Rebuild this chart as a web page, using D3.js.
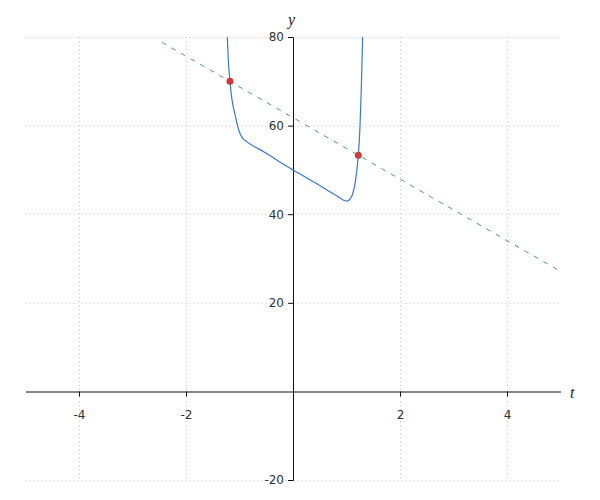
<!DOCTYPE html>
<html>
<head>
<meta charset="utf-8">
<script src="https://cdn.jsdelivr.net/npm/d3@7"></script>
<style>
  body { margin: 0; background: #fff; }
  svg { display: block; font-family: "DejaVu Sans", sans-serif; }
</style>
</head>
<body>
<svg id="chart" width="600" height="500"></svg>
<script>
// curve samples
const curveT = [-1.228, -1.209, -1.178, -1.146, -1.084, -1.034, -0.991, -0.96, -0.929, -0.88, -0.835, -0.75, -0.649,
  -0.5, -0.368, -0.2, 0, 0.25, 0.5, 0.598, 0.754, 0.85, 0.91, 0.96, 1.003, 1.05, 1.08, 1.109, 1.135, 1.159, 1.19,
  1.221, 1.252, 1.277, 1.302];
const curveY = [80, 74.8, 70.0, 66.3, 62.5, 59.9, 58.2, 57.5, 57.0, 56.5, 56.1, 55.45, 54.8,
  53.75, 52.75, 51.45, 50, 48.25, 46.5, 45.75, 44.6, 43.9, 43.45, 43.1, 42.95, 43.2, 43.7, 44.4, 45.5, 46.9, 49.6,
  53.3, 59.7, 68.5, 80];

// dashed line endpoints
const lineT = [-2.45, 5];
const lineY = [78.8, 27.1];

// intersection points
const dotT = [-1.178, 1.221];
const dotY = [70.0, 53.3];

const xTicks = [-4, -2, 2, 4];
const yTicks = [-20, 20, 40, 60, 80];

const xScale = d3.scaleLinear().domain([-5, 5]).range([25.5, 560.5]);
const yScale = d3.scaleLinear().domain([-20, 80]).range([480, 37]);

const svg = d3.select('#chart');

svg.append('defs').append('clipPath').attr('id', 'plot')
  .append('rect').attr('x', 25).attr('y', 36).attr('width', 536).attr('height', 445);

// grid
const grid = svg.append('g');
grid.selectAll('.vg').data(xTicks).enter().append('line')
  .attr('x1', d => Math.round(xScale(d)) + 0.5).attr('x2', d => Math.round(xScale(d)) + 0.5)
  .attr('y1', yScale(80)).attr('y2', yScale(-20))
  .attr('stroke', '#c8c8c8').attr('stroke-dasharray', '1,3');
grid.selectAll('.hg').data(yTicks).enter().append('line')
  .attr('y1', d => Math.round(yScale(d)) + 0.5).attr('y2', d => Math.round(yScale(d)) + 0.5)
  .attr('x1', xScale(-5)).attr('x2', xScale(5))
  .attr('stroke', '#c8c8c8').attr('stroke-dasharray', '1,3');

// axes
const fmt = d => String(d);
const xAxis = svg.append('g')
  .attr('transform', `translate(0,${Math.round(yScale(0)) + 0.5})`)
  .call(d3.axisBottom(xScale).tickValues(xTicks).tickSize(5).tickSizeOuter(0).tickPadding(18).tickFormat(fmt));
const yAxis = svg.append('g')
  .attr('transform', `translate(${Math.round(xScale(0))},0)`)
  .call(d3.axisLeft(yScale).tickValues(yTicks).tickSize(5).tickSizeOuter(5).tickPadding(4).tickFormat(fmt));

[xAxis, yAxis].forEach(a => {
  a.selectAll('path, line').attr('stroke', '#111');
  a.selectAll('text').attr('fill', '#333').style('font-size', '12px').style('font-family', '"DejaVu Sans", sans-serif');
});
xAxis.selectAll('text').attr('dy', '0.35em');

svg.append('text').attr('x', 570).attr('y', 398)
  .style('font-family', '"Liberation Serif", serif').style('font-style', 'italic').style('font-size', '16px')
  .attr('fill', '#222').text('t');
svg.append('text').attr('x', 288).attr('y', 25)
  .style('font-family', '"Liberation Serif", serif').style('font-style', 'italic').style('font-size', '16px')
  .attr('fill', '#222').text('y');

const plot = svg.append('g').attr('clip-path', 'url(#plot)');

// dashed line
plot.append('line')
  .attr('x1', xScale(lineT[0])).attr('y1', yScale(lineY[0]))
  .attr('x2', xScale(lineT[1])).attr('y2', yScale(lineY[1]))
  .attr('stroke', '#4aa55a').attr('stroke-width', 1).attr('stroke-dasharray', '5,6');

// curve
const curveData = curveT.map((t, i) => ({ t: t, y: curveY[i] }));
plot.append('path')
  .datum(curveData)
  .attr('d', d3.line().x(d => xScale(d.t)).y(d => yScale(d.y)).curve(d3.curveMonotoneX))
  .attr('fill', 'none').attr('stroke', '#3a78c9').attr('stroke-width', 1.2);

// dots
plot.selectAll('.dot').data(dotT).enter().append('circle')
  .attr('cx', d => xScale(d)).attr('cy', (d, i) => yScale(dotY[i]))
  .attr('r', 3.5).attr('fill', '#c83c3c');
</script>
</body>
</html>
